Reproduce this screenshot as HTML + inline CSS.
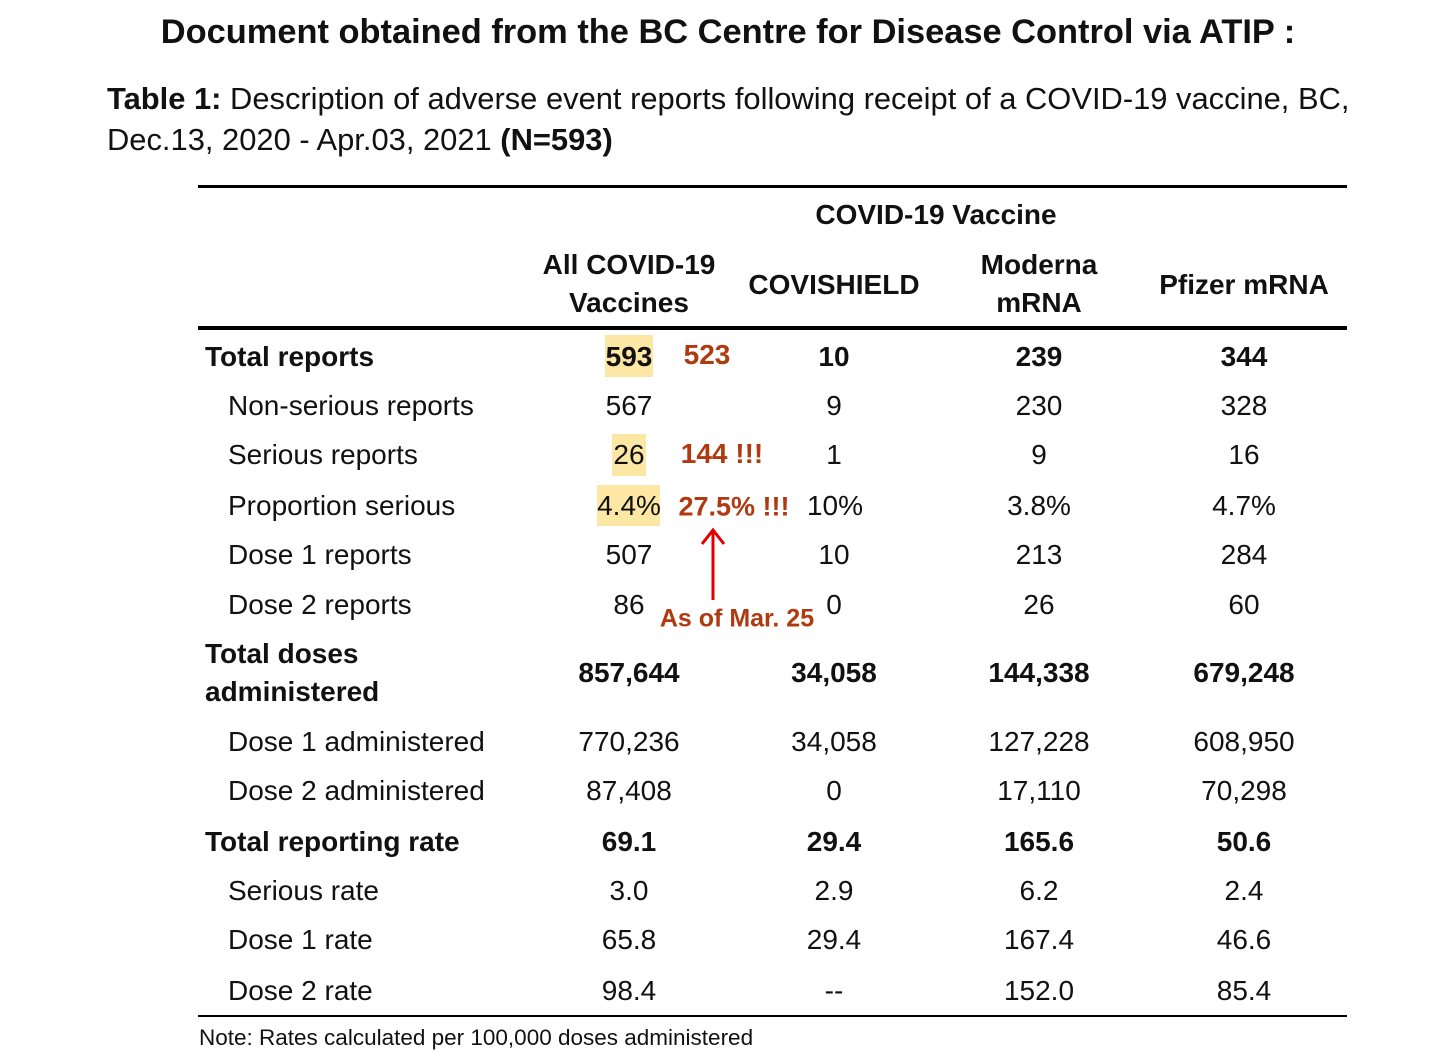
<!DOCTYPE html>
<html><head><meta charset="utf-8">
<style>
body{margin:0;width:1456px;height:1059px;background:#fff;position:relative;overflow:hidden;font-family:"Liberation Sans",sans-serif;color:#111}
.a{position:absolute;white-space:nowrap}
.c{position:absolute;white-space:nowrap;transform:translate(-50%,-50%);font-size:28px}
.l{position:absolute;white-space:nowrap;transform:translateY(-50%);font-size:28px}
.b{font-weight:bold}
.rule{position:absolute;left:198px;width:1149px;background:#000}
.hl{position:absolute;background:#fde7a4}
.red{color:#b03a10;font-weight:bold}
</style></head><body>
<div class="a b" style="left:0;width:1456px;text-align:center;top:13px;font-size:34.4px">Document obtained from the BC Centre for Disease Control via ATIP :</div>
<div class="a" style="left:107px;top:78px;font-size:30.9px;line-height:41px"><b>Table 1:</b> Description of adverse event reports following receipt of a COVID-19 vaccine, BC,<br>Dec.13, 2020 - Apr.03, 2021 <b>(N=593)</b></div>
<div class="rule" style="top:185px;height:3px"></div>
<div class="rule" style="top:326px;height:4px"></div>
<div class="rule" style="top:1015px;height:2px"></div>
<div class="c b" style="left:936px;top:215px">COVID-19 Vaccine</div>
<div class="c b" style="left:629px;top:284px;text-align:center;line-height:38px">All COVID-19<br>Vaccines</div>
<div class="c b" style="left:834px;top:285px">COVISHIELD</div>
<div class="c b" style="left:1039px;top:284px;text-align:center;line-height:38px">Moderna<br>mRNA</div>
<div class="c b" style="left:1244px;top:285px">Pfizer mRNA</div>
<div class="hl" style="left:605px;top:335px;width:48px;height:42px"></div>
<div class="hl" style="left:612px;top:434px;width:34px;height:42px"></div>
<div class="hl" style="left:597px;top:485px;width:63px;height:41px"></div>
<div id="rows"></div>
<div class="c red" style="left:707px;top:355px">523</div>
<div class="c red" style="left:722px;top:454px">144 !!!</div>
<div class="c red" style="left:734px;top:507px;font-size:27px">27.5% !!!</div>
<svg class="a" style="left:700px;top:526px" width="26" height="76"><line x1="13" y1="4" x2="13" y2="74" stroke="#e00000" stroke-width="3"/><polyline points="2,18 13,4 24,18" fill="none" stroke="#e00000" stroke-width="3"/></svg>
<div class="c red" style="left:737px;top:619px;font-size:25px">As of Mar. 25</div>
<div class="a" style="left:199px;top:1025px;font-size:22.5px">Note: Rates calculated per 100,000 doses administered</div>
<script>
const labels=["Total reports","Non-serious reports","Serious reports","Proportion serious","Dose 1 reports","Dose 2 reports","Total doses|administered","Dose 1 administered","Dose 2 administered","Total reporting rate","Serious rate","Dose 1 rate","Dose 2 rate"];
const bold=[1,0,0,0,0,0,1,0,0,1,0,0,0];
const allV=["593","567","26","4.4%","507","86","857,644","770,236","87,408","69.1","3.0","65.8","98.4"];
const covV=["10","9","1","10%","10","0","34,058","34,058","0","29.4","2.9","29.4","--"];
const modV=["239","230","9","3.8%","213","26","144,338","127,228","17,110","165.6","6.2","167.4","152.0"];
const pfzV=["344","328","16","4.7%","284","60","679,248","608,950","70,298","50.6","2.4","46.6","85.4"];
const ys=[357,406,455,506,555,605,673,742,791,842,891,940,991];
const root=document.getElementById('rows');
labels.forEach((lab,i)=>{
  const d=document.createElement('div');
  d.className='l'+(bold[i]?' b':'');
  
  
  d.style.left=(bold[i]?205:228)+'px';d.style.top=ys[i]+'px';
  d.innerHTML=lab.split('|').join('<br>');d.style.lineHeight='38px';
  root.appendChild(d);
  [[allV,629],[covV,834],[modV,1039],[pfzV,1244]].forEach(([arr,x])=>{
    const c=document.createElement('div');
    c.className='c'+(bold[i]?' b':'');
    
    
    c.style.left=x+'px';c.style.top=ys[i]+'px';
    if(arr===covV&&i===3)c.style.left='835px';
    c.textContent=arr[i];root.appendChild(c);
  });
});
</script>
</body></html>
